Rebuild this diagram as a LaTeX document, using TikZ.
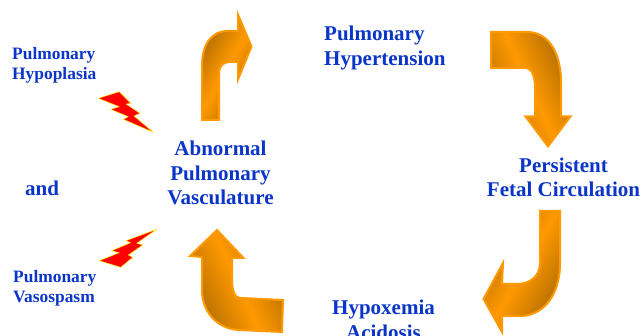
\documentclass[tikz,border=0pt]{standalone}
\usepackage{fontspec}
\setmainfont{Liberation Serif}
\definecolor{bluetext}{HTML}{0A35C8}
\definecolor{arroworange}{HTML}{FF9900}
\definecolor{arrowdark}{HTML}{B06C00}
\tikzset{
    biglabel/.style={text=bluetext, font=\fontsize{21}{24.5}\selectfont\bfseries, align=center, inner sep=0pt},
    smalllabel/.style={text=bluetext, font=\fontsize{17.4}{20}\selectfont\bfseries, align=left, inner sep=0pt},
    bentarrow/.style={draw=arroworange, line width=2pt, line join=miter, left color=arrowdark, right color=arrowdark, middle color=arroworange},
    bolt/.style={draw=yellow, fill=red, line width=.5pt, line join=round}
}

\begin{document}
\begin{tikzpicture}[x=1pt, y=-1pt]
    \useasboundingbox (0,0) rectangle (641,336);
    \clip (0,0) rectangle (641,336);
    % Below are the four bent arrows.
        \draw[bentarrow, shading angle=60] (202,120) -- (219,120) -- (219,74) .. controls (219,66) and (223,62) .. (230,62) -- (238,62) -- (238,79.5) -- (251.5,46.5) -- (238,14.5) -- (238,31) -- (228,31) .. controls (210,31) and (202,46) .. (202,66) -- cycle;
        \draw[bentarrow, shading angle=115] (491,32) -- (527,32) .. controls (550,32) and (561,55) .. (561,82) -- (561,116.5) -- (570.5,116.5) -- (548,146.5) -- (525.5,116.5) -- (535,116.5) -- (535,88) .. controls (535,76) and (532,68) .. (525,68) -- (491,68) -- cycle;
        \draw[bentarrow, shading angle=-120] (540,211) -- (560,211) -- (560,263) .. controls (560,297) and (542,316) .. (520,316) -- (502,316) -- (502,332) -- (483.5,299) -- (503,263) -- (502,284) -- (517,284) .. controls (530,284) and (540,276) .. (540,263) -- cycle;
        \draw[bentarrow, shading angle=-65] (217,230) -- (243.5,258) -- (232,258) -- (232,278) .. controls (232,290) and (234,298) .. (241,298) -- (283,300) -- (282,332) -- (238,330) .. controls (215,328) and (202,310) .. (202,290) -- (202,257) -- (190,256) -- cycle;
    % Below are the two lightning bolts.
        \draw[bolt] (98.3,98.3) -- (119.3,91.7) -- (130.7,103.3) -- (126,104) -- (140,113.3) -- (134,116) -- (153.3,132.3) -- (123.3,119.3) -- (128.3,116.7) -- (110.7,109.3) -- (119.3,106.7) -- cycle;
        \draw[bolt] (156.7,229.3) -- (126,240.7) -- (130.7,242.7) -- (111.7,250.7) -- (119.3,252.7) -- (99.3,260.7) -- (120.7,267.3) -- (132.7,257.3) -- (128.3,255) -- (142.7,245) -- (136.7,243.3) -- cycle;
    % Below nodes are the labels.
        \node[smalllabel, anchor=west] (hypoplasia) at (12,65) {Pulmonary\\Hypoplasia};
        \node[biglabel, anchor=west] (conj) at (25,188) {and};
        \node[smalllabel, anchor=west] (vasospasm) at (13,288) {Pulmonary\\Vasospasm};
        \node[biglabel] (vasculature) at (220.5,173) {Abnormal\\Pulmonary\\Vasculature};
        \node[biglabel, anchor=west, align=left] (hypertension) at (324,48) {Pulmonary\\Hypertension};
        \node[biglabel] (circulation) at (563.5,177.5) {Persistent\\Fetal Circulation};
        \node[biglabel] (hypoxemia) at (383.5,320) {Hypoxemia\\Acidosis};
\end{tikzpicture}
\end{document}
